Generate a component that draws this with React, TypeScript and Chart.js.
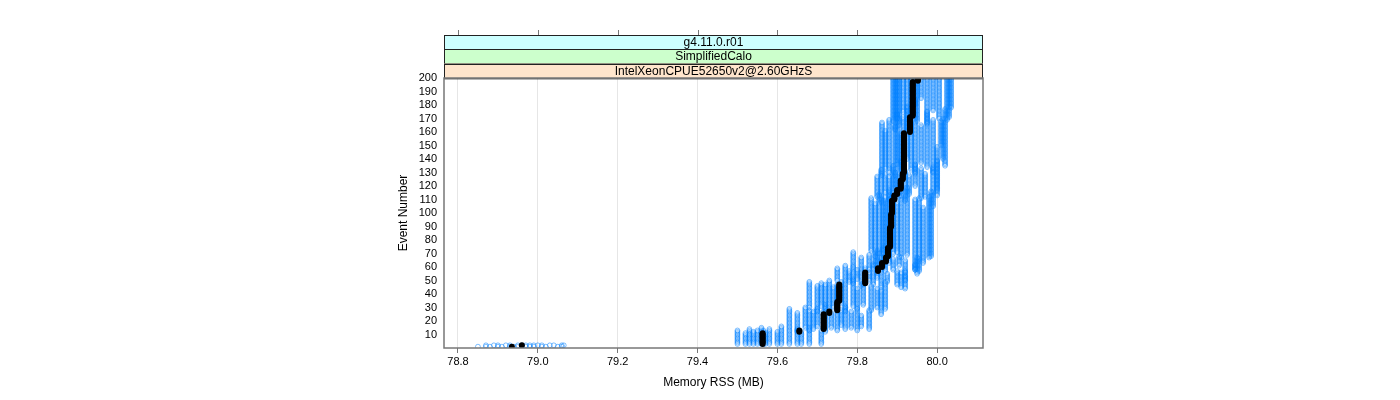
import React, { useEffect, useRef } from 'react';
import { Chart, registerables } from 'chart.js';

Chart.register(...registerables);

const stripLabels = ['g4.11.0.r01', 'SimplifiedCalo', 'IntelXeonCPUE52650v2@2.60GHzS'];
const stripColors = ['#ccffff', '#ccffcc', '#ffe5cc'];
const xTicks = [78.8, 79.0, 79.2, 79.4, 79.6, 79.8, 80.0];
const yTicks = [10, 20, 30, 40, 50, 60, 70, 80, 90, 100, 110, 120, 130, 140, 150, 160, 170, 180, 190, 200];
const xLabel = 'Memory RSS (MB)';
const yLabel = 'Event Number';
const lastEvent = 200;

// Each run: [memory RSS (MB), first event at which this value holds]
const run01 = [[78.85, 1], [78.87, 2], [79.50, 3], [79.63, 14], [79.68, 30], [79.75, 50], [79.79, 60], [79.835, 72], [79.85, 112], [79.862, 128], [79.89, 168]];
const run02 = [[78.87, 1], [78.89, 2], [79.52, 3], [79.65, 12], [79.70, 27], [79.77, 47], [79.81, 62], [79.845, 68], [79.86, 108], [79.87, 133], [79.895, 162]];
const run03 = [[78.88, 1], [78.90, 2], [79.53, 3], [79.67, 15], [79.71, 31], [79.78, 49], [79.83, 58], [79.855, 70], [79.87, 115], [79.88, 130], [79.90, 170]];
const run04 = [[78.90, 1], [78.92, 2], [79.54, 3], [79.68, 13], [79.72, 29], [79.79, 48], [79.845, 61], [79.865, 69], [79.88, 110], [79.895, 128], [79.905, 165]];
const run05 = [[78.91, 1], [78.93, 2], [79.55, 3], [79.69, 14], [79.73, 28], [79.80, 51], [79.85, 59], [79.87, 73], [79.89, 113], [79.90, 136], [79.915, 175]];
const run06 = [[78.93, 1], [78.95, 2], [79.56, 3], [79.70, 16], [79.74, 30], [79.81, 46], [79.86, 62], [79.88, 68], [79.895, 118], [79.91, 131], [79.925, 160]];
const run07 = [[78.94, 1], [78.96, 2], [79.565, 3], [79.715, 14], [79.75, 28], [79.82, 48], [79.865, 60], [79.885, 75], [79.905, 112], [79.915, 128], [79.935, 172]];
const run08 = [[78.95, 1], [78.97, 2], [79.57, 3], [79.72, 12], [79.76, 33], [79.83, 50], [79.87, 57], [79.89, 70], [79.91, 116], [79.925, 140], [79.945, 180]];
const run09 = [[78.96, 1], [78.98, 2], [79.58, 3], [79.735, 15], [79.77, 27], [79.84, 47], [79.88, 63], [79.90, 71], [79.92, 109], [79.935, 132], [79.95, 168]];
const run10 = [[78.97, 1], [78.99, 2], [79.60, 3], [79.75, 13], [79.79, 31], [79.85, 52], [79.89, 58], [79.91, 67], [79.93, 114], [79.945, 129], [79.96, 185]];
const run11 = [[78.98, 1], [79.00, 2], [79.61, 3], [79.76, 17], [79.80, 29], [79.86, 45], [79.905, 61], [79.925, 69], [79.945, 120], [79.96, 137], [79.975, 166]];
const run12 = [[78.99, 1], [79.01, 2], [79.63, 3], [79.77, 14], [79.815, 32], [79.875, 49], [79.92, 56], [79.945, 66], [79.96, 111], [79.975, 134], [79.99, 176]];
const run13 = [[79.01, 1], [79.03, 2], [79.65, 3], [79.785, 15], [79.835, 28], [79.90, 47], [79.945, 58], [79.955, 66], [79.97, 112], [79.99, 130], [80.005, 170]];
const run14 = [[79.02, 1], [79.04, 2], [79.66, 3], [79.80, 13], [79.85, 30], [79.91, 45], [79.955, 57], [79.98, 67], [80.00, 113], [80.01, 150], [80.025, 169]];
const run15 = [[79.05, 1], [79.06, 2], [79.68, 3], [79.81, 16], [79.86, 25], [79.92, 44], [79.95, 55], [79.985, 68], [80.00, 117], [80.015, 140], [80.03, 171]];
const run16 = [[79.06, 1], [79.065, 2], [79.71, 3], [79.83, 14], [79.87, 29], [79.92, 50], [79.945, 58], [79.965, 63], [79.99, 105], [80.02, 135], [80.035, 178]];

const medianRun = [[78.935, 1], [78.96, 2], [79.563, 3], [79.655, 12], [79.716, 14], [79.73, 26], [79.75, 28], [79.755, 35], [79.82, 48], [79.852, 57], [79.862, 60], [79.872, 64], [79.877, 68], [79.882, 75], [79.885, 90], [79.887, 100], [79.893, 110], [79.90, 114], [79.909, 118], [79.914, 125], [79.917, 130], [79.932, 160], [79.939, 172], [79.952, 198]];

const runs = [run01, run02, run03, run04, run05, run06, run07, run08, run09, run10, run11, run12, run13, run14, run15, run16];

function toPoints(steps: number[][]) {
  const pts: { x: number; y: number }[] = [];
  for (let i = 0; i < steps.length; i++) {
    const start = steps[i][1];
    const end = i + 1 < steps.length ? steps[i + 1][1] - 1 : lastEvent;
    for (let e = start; e <= end; e++) pts.push({ x: steps[i][0], y: e });
  }
  return pts;
}

const FONT = '"Liberation Sans", Arial, Helvetica, sans-serif';

const latticePlugin = {
  id: 'lattice',
  afterDraw(chart: any) {
    const { ctx, chartArea } = chart;
    const { left, right, top, bottom } = chartArea;
    const xs = chart.scales.x;
    const stripH = 14.33;
    ctx.save();
    for (let i = 0; i < 3; i++) {
      const y0 = top - stripH * (3 - i);
      ctx.fillStyle = stripColors[i];
      ctx.fillRect(left, y0, right - left, stripH);
      ctx.strokeStyle = '#222';
      ctx.lineWidth = 1;
      ctx.strokeRect(left + 0.5, Math.round(y0) + 0.5, right - left - 1, stripH);
      ctx.fillStyle = '#000';
      ctx.font = '12px ' + FONT;
      ctx.textAlign = 'center';
      ctx.textBaseline = 'middle';
      ctx.fillText(stripLabels[i], (left + right) / 2, y0 + stripH / 2 + 0.5);
    }
    const stripTop = top - stripH * 3;
    ctx.strokeStyle = '#777';
    ctx.lineWidth = 1;
    for (const v of xTicks) {
      const px = Math.round(xs.getPixelForValue(v)) + 0.5;
      ctx.beginPath();
      ctx.moveTo(px, stripTop - 5);
      ctx.lineTo(px, stripTop);
      ctx.stroke();
    }
    ctx.strokeStyle = '#777';
    ctx.lineWidth = 1.5;
    ctx.strokeRect(left, top, right - left, bottom - top);
    ctx.restore();
  },
};

export default function App() {
  const ref = useRef<HTMLCanvasElement>(null);
  useEffect(() => {
    if (!ref.current) return;
    const datasets: any[] = runs.map((r, i) => ({
      label: 'run' + (i + 1),
      data: toPoints(r),
      order: 1,
      showLine: false,
      pointStyle: 'circle',
      pointRadius: 2.4,
      pointBorderWidth: 0.6,
      pointBorderColor: 'rgba(0,128,255,0.85)',
      pointBackgroundColor: 'rgba(0,0,0,0)',
    }));
    datasets.unshift({
      label: 'median',
      data: toPoints(medianRun),
      order: 0,
      showLine: false,
      pointStyle: 'circle',
      pointRadius: 3,
      pointBorderWidth: 0,
      pointBorderColor: '#000',
      pointBackgroundColor: '#000',
    });
    const chart = new Chart(ref.current, {
      type: 'scatter',
      data: { datasets },
      options: {
        animation: false,
        responsive: false,
        devicePixelRatio: 1,
        layout: { padding: { left: 390, right: 417, top: 78, bottom: 0 } },
        plugins: { legend: { display: false }, tooltip: { enabled: false } },
        scales: {
          x: {
            type: 'linear',
            min: 78.765,
            max: 80.115,
            afterBuildTicks: (s: any) => { s.ticks = xTicks.map((v) => ({ value: v })); },
            afterFit: (s: any) => { s.height = 52; },
            ticks: {
              autoSkip: false,
              maxRotation: 0,
              padding: 2,
              color: '#000',
              font: { size: 11, family: FONT },
              callback: (v: any) => Number(v).toFixed(1),
            },
            grid: { display: true, color: '#e6e6e6', tickColor: '#777', tickLength: 5, lineWidth: 1 },
            border: { display: false },
            title: { display: true, text: xLabel, color: '#000', font: { size: 12, family: FONT }, padding: { top: 0, bottom: 10 } },
          },
          y: {
            type: 'linear',
            min: 0,
            max: 200,
            afterBuildTicks: (s: any) => { s.ticks = yTicks.map((v) => ({ value: v })); },
            afterFit: (s: any) => { s.width = 54; },
            ticks: {
              autoSkip: false,
              padding: 7,
              color: '#000',
              font: { size: 11, family: FONT },
              callback: (v: any) => String(v),
            },
            grid: { display: false, drawTicks: false },
            border: { display: false },
            title: { display: true, text: yLabel, color: '#000', font: { size: 12, family: FONT }, padding: { top: 6, bottom: 0 } },
          },
        },
      },
      plugins: [latticePlugin],
    });
    return () => chart.destroy();
  }, []);
  return (
    <div style={{ position: 'fixed', left: 0, top: 0, width: 1400, height: 400, background: '#fff' }}>
      <canvas ref={ref} width={1400} height={400} style={{ width: 1400, height: 400, display: 'block' }} />
    </div>
  );
}
